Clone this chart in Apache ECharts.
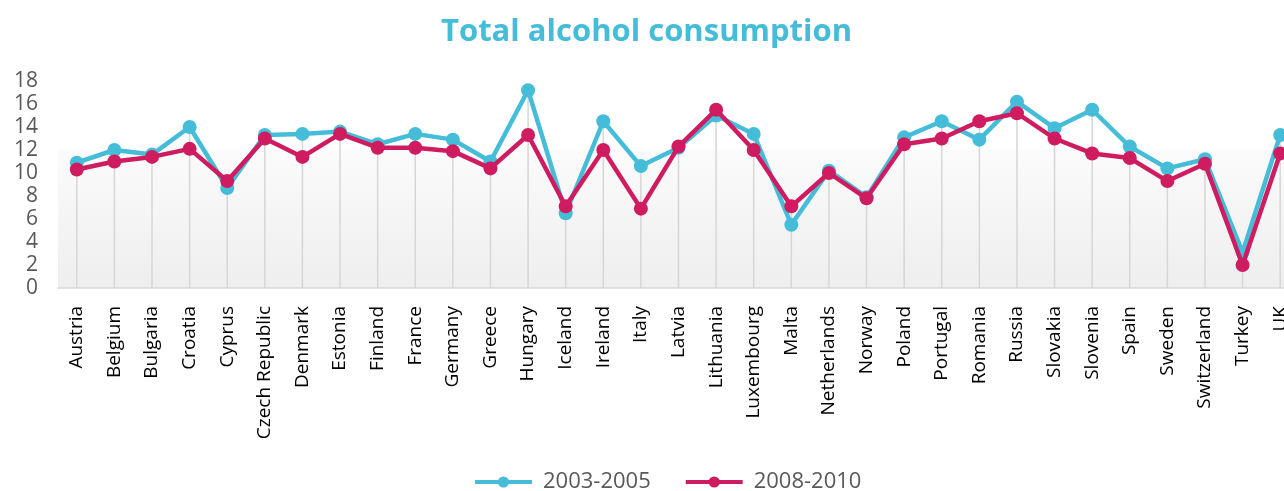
<!DOCTYPE html>
<html>
<head>
<meta charset="utf-8">
<script src="https://cdn.jsdelivr.net/npm/echarts@6/dist/echarts.min.js"></script>
<style>
  html, body { margin: 0; padding: 0; background: #ffffff; }
  #chart { width: 1284px; height: 491px; }
</style>
</head>
<body>
<div id="chart"></div>
<script>
// Countries along the category axis
const countries = [
  'Austria', 'Belgium', 'Bulgaria', 'Croatia', 'Cyprus', 'Czech Republic', 'Denmark',
  'Estonia', 'Finland', 'France', 'Germany', 'Greece', 'Hungary', 'Iceland', 'Ireland',
  'Italy', 'Latvia', 'Lithuania', 'Luxembourg', 'Malta', 'Netherlands', 'Norway',
  'Poland', 'Portugal', 'Romania', 'Russia', 'Slovakia', 'Slovenia', 'Spain', 'Sweden',
  'Switzerland', 'Turkey', 'UK'
];

// Litres of pure alcohol per adult, 2003-2005 average
const period1 = [
  10.9, 12.0, 11.6, 14.0, 8.7, 13.3, 13.4, 13.6, 12.5, 13.4, 12.9,
  11.0, 17.2, 6.5, 14.5, 10.6, 12.2, 15.0, 13.4, 5.5, 10.2, 7.9,
  13.1, 14.5, 12.9, 16.2, 13.9, 15.5, 12.3, 10.4, 11.2, 3.1, 13.3
];

// Litres of pure alcohol per adult, 2008-2010 average
const period2 = [
  10.3, 11.0, 11.4, 12.1, 9.3, 13.0, 11.4, 13.4, 12.2, 12.2, 11.9,
  10.4, 13.3, 7.1, 12.0, 6.9, 12.3, 15.5, 12.0, 7.1, 10.0, 7.8,
  12.5, 13.0, 14.5, 15.2, 13.0, 11.7, 11.3, 9.3, 10.8, 2.0, 11.7
];

const seriesNames = ['2003-2005', '2008-2010'];
const yTicks = [0, 2, 4, 6, 8, 10, 12, 14, 16, 18];

// Drop line height for each country: the higher of the two periods
const dropHeights = countries.map((_, i) => Math.max(period1[i], period2[i]));

const BLUE = '#45bdd8';
const RED = '#cf1c60';

const chart = echarts.init(document.getElementById('chart'), null, { renderer: 'canvas' });

chart.setOption({
  animation: false,
  backgroundColor: '#ffffff',
  title: {
    text: 'Total alcohol consumption',
    left: 436,
    top: 12,
    textStyle: {
      fontFamily: 'Open Sans',
      fontSize: 31,
      fontWeight: 'bold',
      color: BLUE
    }
  },
  legend: {
    data: seriesNames,
    bottom: -7,
    left: 468,
    itemWidth: 57,
    itemHeight: 14,
    itemGap: 33,
    lineStyle: { width: 4 },
    textStyle: {
      fontFamily: 'Open Sans',
      fontSize: 22,
      color: '#595959',
      padding: [0, 0, 0, 6]
    }
  },
  grid: {
    left: 58,
    right: -15,
    top: 81,
    bottom: 203,
    outerBoundsMode: 'none',
    containLabel: false,
    show: true,
    borderWidth: 0,
    backgroundColor: {
      type: 'linear', x: 0, y: 0, x2: 0, y2: 1,
      colorStops: [
        { offset: 0, color: '#ffffff' },
        { offset: 0.33, color: '#ffffff' },
        { offset: 0.335, color: '#fbfbfb' },
        { offset: 1, color: '#eeeeee' }
      ]
    }
  },
  xAxis: {
    type: 'category',
    data: countries,
    boundaryGap: true,
    axisLine: { show: true, lineStyle: { color: '#d9d9d9', width: 1.5 } },
    axisTick: { show: false },
    splitLine: { show: false },
    axisLabel: {
      interval: 0,
      rotate: 90,
      margin: 18,
      fontFamily: 'Open Sans',
      fontSize: 19,
      color: '#000000'
    }
  },
  yAxis: {
    type: 'value',
    min: yTicks[0],
    max: yTicks[yTicks.length - 1],
    interval: yTicks[1] - yTicks[0],
    axisLine: { show: false },
    axisTick: { show: false },
    splitLine: { show: false },
    axisLabel: {
      margin: 20,
      fontFamily: 'Open Sans',
      fontSize: 21,
      color: '#595959'
    }
  },
  series: [
    {
      name: 'drop',
      type: 'bar',
      data: dropHeights,
      barWidth: 1.5,
      itemStyle: { color: '#d6d6d6' },
      silent: true,
      z: 1
    },
    {
      name: seriesNames[0],
      type: 'line',
      data: period1,
      symbol: 'circle',
      symbolSize: 14,
      lineStyle: { color: BLUE, width: 4.5 },
      itemStyle: { color: BLUE },
      z: 3
    },
    {
      name: seriesNames[1],
      type: 'line',
      data: period2,
      symbol: 'circle',
      symbolSize: 14,
      lineStyle: { color: RED, width: 4.5 },
      itemStyle: { color: RED },
      z: 4
    }
  ]
});
</script>
</body>
</html>
